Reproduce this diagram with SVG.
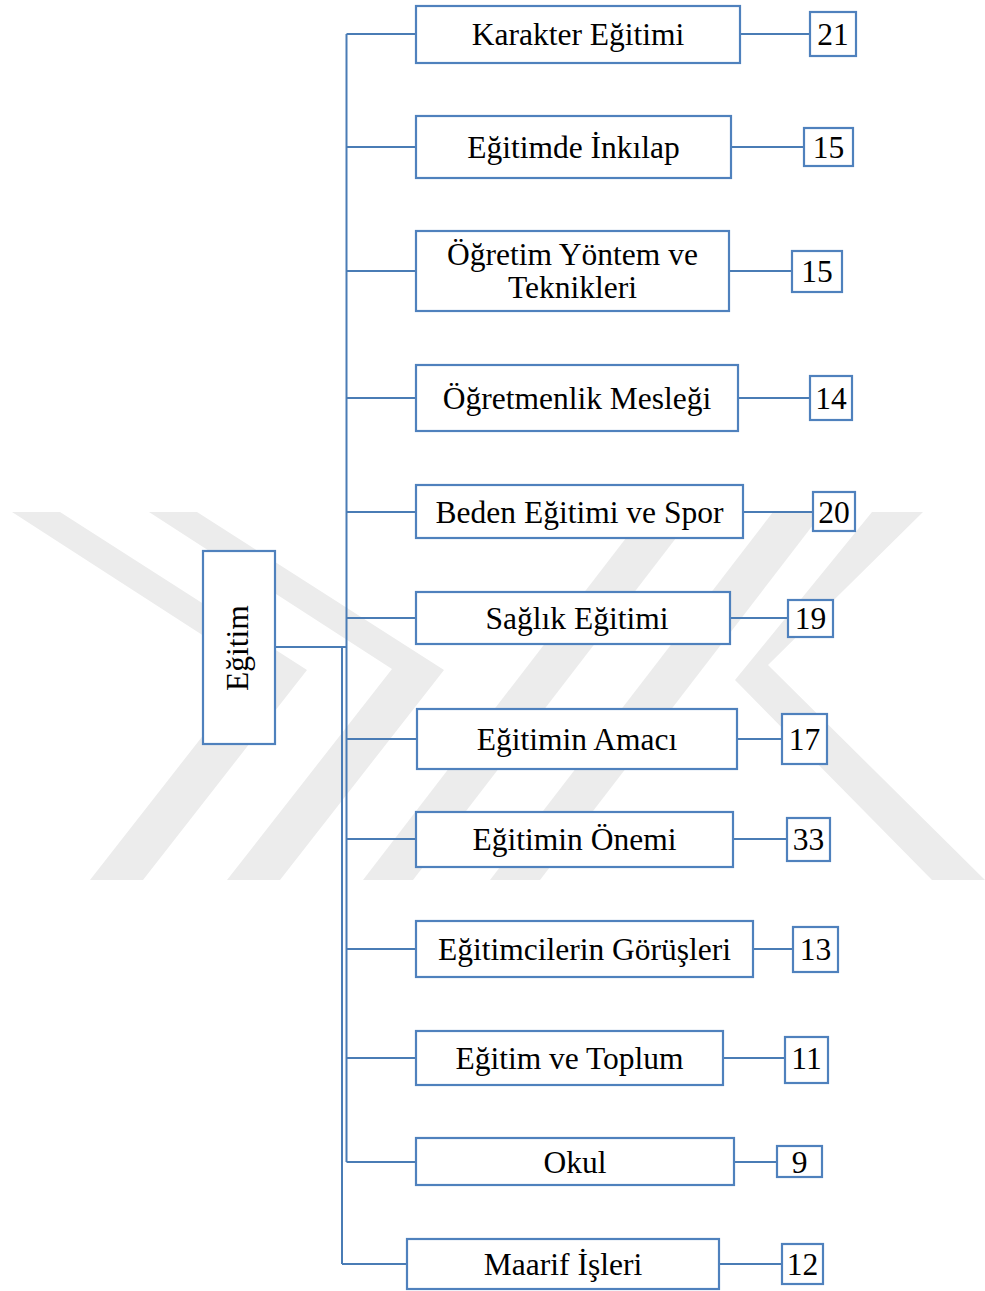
<svg xmlns="http://www.w3.org/2000/svg" width="985" height="1291" viewBox="0 0 985 1291">
<style>
.bg{fill:#ffffff}
.wm{fill:#ececec}
.box{fill:#ffffff;stroke:#4f81bd;stroke-width:2.2}
.ln{fill:none;stroke:#4a7cb5;stroke-width:2}
.t{font-family:"Liberation Serif","Times New Roman",serif;font-size:31.5px;fill:#000000;text-anchor:middle}
</style>
<rect class="bg" x="0" y="0" width="985" height="1291"/>
<g id="watermark">
<polygon class="wm" points="12,512 60,512 307,670 143,880 90,880 255,669"/>
<polygon class="wm" points="149,512 197,512 444,670 280,880 227,880 392,669"/>
<polygon class="wm" points="363,880 413,880 696,512 646,512"/>
<polygon class="wm" points="490,880 540,880 823,512 773,512"/>
<polygon class="wm" points="872,512 923,512 768,665 985,880 932,880 735,680"/>
</g>
<g id="connectors">
<path class="ln" d="M346.5,34 V1162"/>
<path class="ln" d="M342,647 V1264"/>
<path class="ln" d="M275,647 H346.5"/>
<path class="ln" d="M346.5,34 H416 M740,34 H810"/>
<path class="ln" d="M346.5,147 H416 M731,147 H804"/>
<path class="ln" d="M346.5,271 H416 M729,271 H792"/>
<path class="ln" d="M346.5,398 H416 M738,398 H810"/>
<path class="ln" d="M346.5,512 H416 M743,512 H813"/>
<path class="ln" d="M346.5,618 H416 M730,618 H788"/>
<path class="ln" d="M346.5,739 H417 M737,739 H782"/>
<path class="ln" d="M346.5,839 H416 M733,839 H787"/>
<path class="ln" d="M346.5,949 H416 M753,949 H793"/>
<path class="ln" d="M346.5,1058 H416 M723,1058 H785"/>
<path class="ln" d="M346.5,1162 H416 M734,1162 H777"/>
<path class="ln" d="M342,1264 H407 M719,1264 H782"/>
</g>
<g id="n-egitim">
<rect class="box" x="203" y="551" width="72" height="193"/>
<text class="t" transform="translate(248,648) rotate(-90)">Eğitim</text>
</g>
<g id="n-karakter">
<rect class="box" x="416" y="6" width="324" height="57"/>
<text class="t" x="578" y="45">Karakter Eğitimi</text>
<rect class="box" x="810" y="12" width="46" height="44"/>
<text class="t" x="833" y="45">21</text>
</g>
<g id="n-inkilap">
<rect class="box" x="416" y="116" width="315" height="62"/>
<text class="t" x="573.5" y="158">Eğitimde İnkılap</text>
<rect class="box" x="804" y="128" width="49" height="38"/>
<text class="t" x="828.5" y="158">15</text>
</g>
<g id="n-ogretim">
<rect class="box" x="416" y="231" width="313" height="80"/>
<text class="t" x="572.5" y="265">Öğretim Yöntem ve</text>
<text class="t" x="572.5" y="298">Teknikleri</text>
<rect class="box" x="792" y="251" width="50" height="41"/>
<text class="t" x="817" y="282">15</text>
</g>
<g id="n-ogretmenlik">
<rect class="box" x="416" y="365" width="322" height="66"/>
<text class="t" x="577" y="409">Öğretmenlik Mesleği</text>
<rect class="box" x="810" y="376" width="42" height="44"/>
<text class="t" x="831" y="409">14</text>
</g>
<g id="n-beden">
<rect class="box" x="416" y="485" width="327" height="53"/>
<text class="t" x="579.5" y="523">Beden Eğitimi ve Spor</text>
<rect class="box" x="813" y="492" width="42" height="39"/>
<text class="t" x="834" y="523">20</text>
</g>
<g id="n-saglik">
<rect class="box" x="416" y="592" width="314" height="52"/>
<text class="t" x="577" y="629">Sağlık Eğitimi</text>
<rect class="box" x="788" y="600" width="45" height="37"/>
<text class="t" x="810.5" y="629">19</text>
</g>
<g id="n-amac">
<rect class="box" x="417" y="709" width="320" height="60"/>
<text class="t" x="577" y="750">Eğitimin Amacı</text>
<rect class="box" x="782" y="714" width="45" height="50"/>
<text class="t" x="804.5" y="750">17</text>
</g>
<g id="n-onem">
<rect class="box" x="416" y="812" width="317" height="55"/>
<text class="t" x="574.5" y="850">Eğitimin Önemi</text>
<rect class="box" x="787" y="818" width="43" height="43"/>
<text class="t" x="808.5" y="850">33</text>
</g>
<g id="n-gorusler">
<rect class="box" x="416" y="921" width="337" height="56"/>
<text class="t" x="584.5" y="960">Eğitimcilerin Görüşleri</text>
<rect class="box" x="793" y="927" width="45" height="45"/>
<text class="t" x="815.5" y="960">13</text>
</g>
<g id="n-toplum">
<rect class="box" x="416" y="1031" width="307" height="54"/>
<text class="t" x="569.5" y="1069">Eğitim ve Toplum</text>
<rect class="box" x="785" y="1037" width="43" height="46"/>
<text class="t" x="806.5" y="1069">11</text>
</g>
<g id="n-okul">
<rect class="box" x="416" y="1138" width="318" height="47"/>
<text class="t" x="575" y="1173">Okul</text>
<rect class="box" x="777" y="1146" width="45" height="31"/>
<text class="t" x="799.5" y="1173">9</text>
</g>
<g id="n-maarif">
<rect class="box" x="407" y="1239" width="312" height="50"/>
<text class="t" x="563" y="1275">Maarif İşleri</text>
<rect class="box" x="782" y="1244" width="41" height="40"/>
<text class="t" x="802.5" y="1275">12</text>
</g>
</svg>
